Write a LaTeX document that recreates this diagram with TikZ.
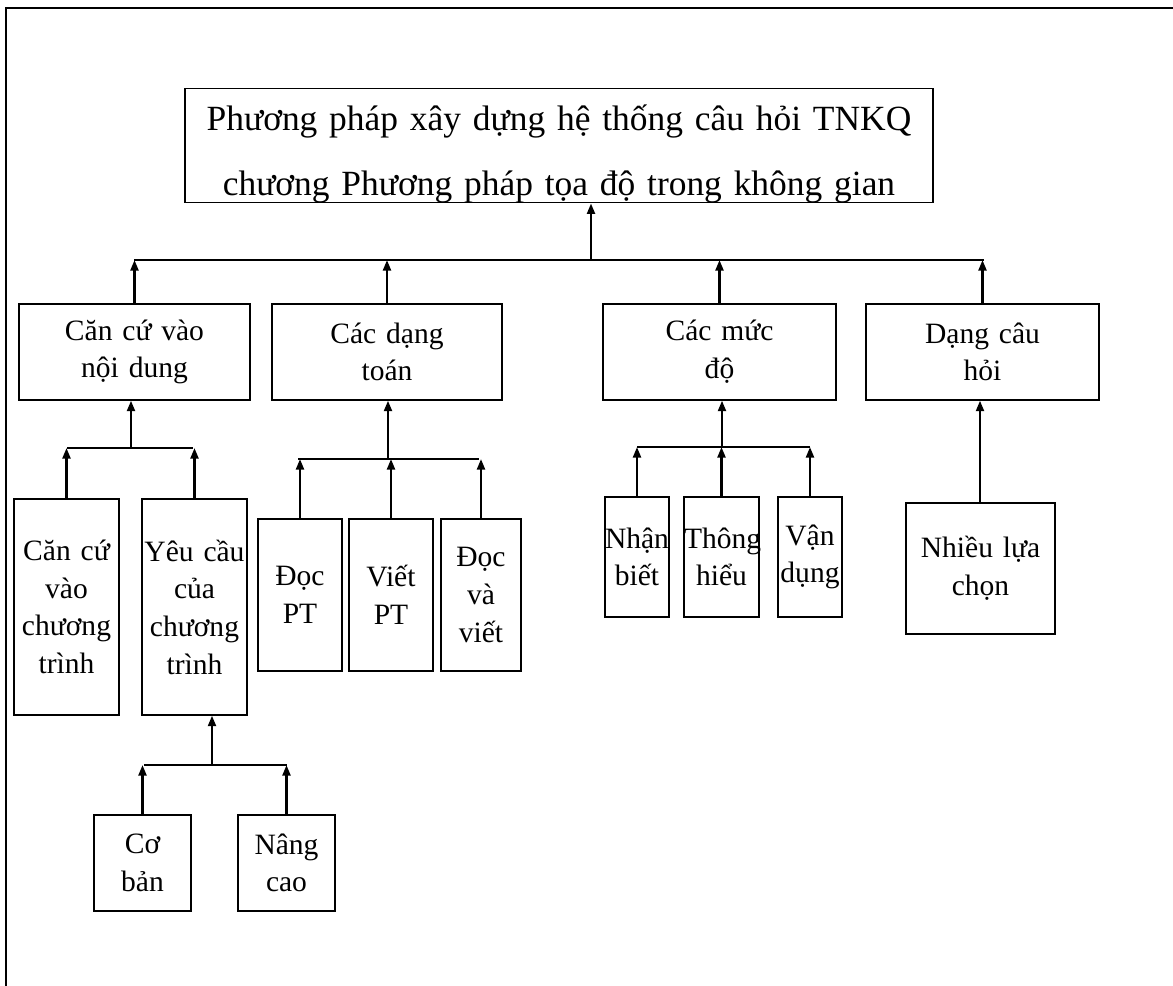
\documentclass[tikz,border=0pt]{standalone}
\usepackage{fontspec}
\setmainfont{Liberation Serif}
\usetikzlibrary{arrows.meta}
\def\topfont{\fontsize{25.2pt}{46pt}\selectfont}
\def\boxfont{\fontsize{21pt}{26.8pt}\selectfont}
\tikzset{
  box/.style={draw, line width=0.9pt, align=center, inner sep=0pt, font=\boxfont},
  topbox/.style={box, font=\topfont},
  arr/.style={line width=1.7pt, -{Triangle[length=7.5pt,width=5.6pt]}},
  bus/.style={line width=0.9pt},
}
% box from its corners (in px): name, x1, y1, x2, y2, text
\newcommand{\bx}[7][box]{%
  \pgfmathsetmacro{\bw}{(#5-#3)*0.025}%
  \pgfmathsetmacro{\bh}{(#6-#4)*0.025}%
  \node[#1, text width=\bw cm, minimum height=\bh cm] (#2) at ({(#3+#5)/2},{(#4+#6)/2}) {#7};}

\begin{document}
\begin{tikzpicture}[x=0.025cm, y=-0.025cm]
\clip (0,0) rectangle (1173,986);
\draw[line width=1.6pt] (6,8) rectangle (1200,1010);

% ---------- top ----------
\bx[topbox]{top}{185}{89}{933}{202}{\rule{0pt}{30pt}Phương pháp xây dựng hệ thống câu hỏi TNKQ\\chương Phương pháp tọa độ trong không gian}

\coordinate (busA) at (134,260);
\coordinate (busB) at (984,260);
\coordinate (jT) at (591,260);
\draw[bus] (busA) -- (busB);
\draw[arr] (jT) -- (jT |- top.south);

% ---------- level 1 ----------
\bx{nd}{19}{304}{250}{400}{Căn cứ vào\\nội dung}
\bx{dt}{272}{304}{502}{400}{Các dạng\\toán}
\bx{md}{603}{304}{836}{400}{Các mức\\độ}
\bx{ch}{866}{304}{1099}{400}{Dạng câu\\hỏi}

\foreach \n in {nd,dt,md,ch}
  \draw[arr] (\n.north) -- (\n.north |- busA);

% ---------- Căn cứ vào nội dung ----------
\coordinate (ndL) at (67,448);
\coordinate (ndR) at (193,448);
\coordinate (ndJ) at (131,448);
\draw[bus] (ndL) -- (ndR);
\draw[arr] (ndJ) -- (ndJ |- nd.south);

\bx{cc}{14}{499}{119}{715}{Căn cứ\\vào\\chương\\trình}
\bx{yc}{142}{499}{247}{715}{Yêu cầu\\của\\chương\\trình}
\draw[arr] (cc.north) -- (cc.north |- ndL);
\draw[arr] (yc.north) -- (yc.north |- ndL);

\coordinate (ycL) at (144,765);
\coordinate (ycR) at (287,765);
\coordinate (ycJ) at (212,765);
\draw[bus] (ycL) -- (ycR);
\draw[arr] (ycJ) -- (ycJ |- yc.south);

\bx{cb}{94}{815}{191}{911}{Cơ\\bản}
\bx{nc}{238}{815}{335}{911}{Nâng\\cao}
\draw[arr] (cb.north) -- (cb.north |- ycL);
\draw[arr] (nc.north) -- (nc.north |- ycL);

% ---------- Các dạng toán ----------
\coordinate (dtL) at (298,459);
\coordinate (dtR) at (479,459);
\coordinate (dtJ) at (388,459);
\draw[bus] (dtL) -- (dtR);
\draw[arr] (dtJ) -- (dtJ |- dt.south);

\bx{dp}{258}{519}{342}{671}{Đọc\\PT}
\bx{vp}{349}{519}{433}{671}{Viết\\PT}
\bx{dv}{441}{519}{521}{671}{Đọc\\và\\viết}
\foreach \n in {dp,vp,dv}
  \draw[arr] (\n.north) -- (\n.north |- dtL);

% ---------- Các mức độ ----------
\coordinate (mdL) at (637,447);
\coordinate (mdR) at (810,447);
\coordinate (mdJ) at (722,447);
\draw[bus] (mdL) -- (mdR);
\draw[arr] (mdJ) -- (mdJ |- md.south);

\bx{nb}{605}{497}{669}{617}{Nhận\\biết}
\bx{th}{684}{497}{759}{617}{Thông\\hiểu}
\bx{vd}{778}{497}{842}{617}{Vận\\dụng}
\foreach \n in {nb,th,vd}
  \draw[arr] (\n.north) -- (\n.north |- mdL);

% ---------- Dạng câu hỏi ----------
\bx{nl}{906}{503}{1055}{634}{Nhiều lựa\\chọn}
\coordinate (nlJ) at (980,503);
\draw[arr] (nlJ) -- (nlJ |- ch.south);
\end{tikzpicture}
\end{document}
